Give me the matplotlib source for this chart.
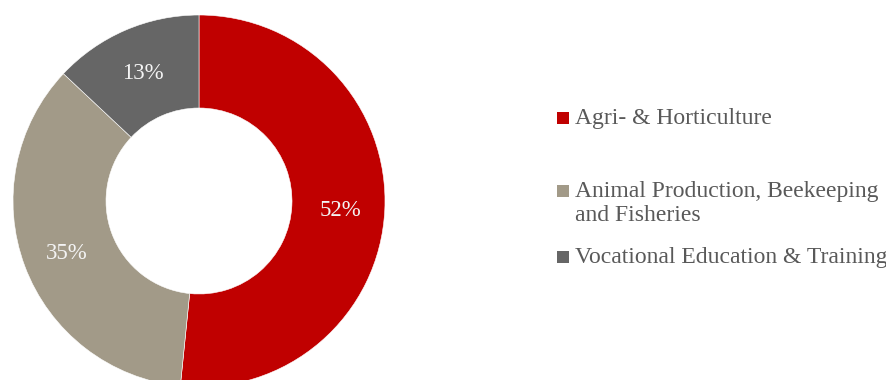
import matplotlib.pyplot as plt
from matplotlib.patches import Rectangle

# Data
categories = ['Agri- & Horticulture',
              'Animal Production, Beekeeping\nand Fisheries',
              'Vocational Education & Training']
shares = [51.6, 35.4, 13.0]
share_labels = ['52%', '35%', '13%']
colors = ['#C00000', '#A29A88', '#666666']

plt.rcParams['font.family'] = ['Liberation Serif', 'DejaVu Serif']

fig = plt.figure(figsize=(8.86, 3.8), dpi=100)
W, H = 886, 380

# donut centred at (199, 201) px, outer radius 186 px
cx, cy, r = 199, 201, 186
ax = fig.add_axes([(cx - r) / W, (H - cy - r) / H, 2 * r / W, 2 * r / H])
wedges, texts = ax.pie(shares, colors=colors, startangle=90, counterclock=False,
                       radius=1, labels=share_labels, labeldistance=0.76,
                       wedgeprops=dict(width=0.5, edgecolor='white', linewidth=0.4),
                       textprops=dict(color='#F4F4F4', fontsize=16.5,
                                      ha='center', va='center_baseline'))
ax.set_xlim(-1, 1)
ax.set_ylim(-1, 1)
ax.set_axis_off()

# manual legend: marker sits on the baseline of the first text line
baselines = [124, 197, 263]
line_step = 24
for label, col, y in zip(categories, colors, baselines):
    fig.patches.append(Rectangle((557 / W, (H - y) / H), 12 / W, 12 / H,
                                 transform=fig.transFigure, facecolor=col,
                                 edgecolor='none'))
    for i, line in enumerate(label.split('\n')):
        fig.text(575 / W, (H - y - i * line_step) / H, line, color='#595959',
                 fontsize=17, ha='left', va='baseline')

fig.savefig('out.png', dpi=100)
